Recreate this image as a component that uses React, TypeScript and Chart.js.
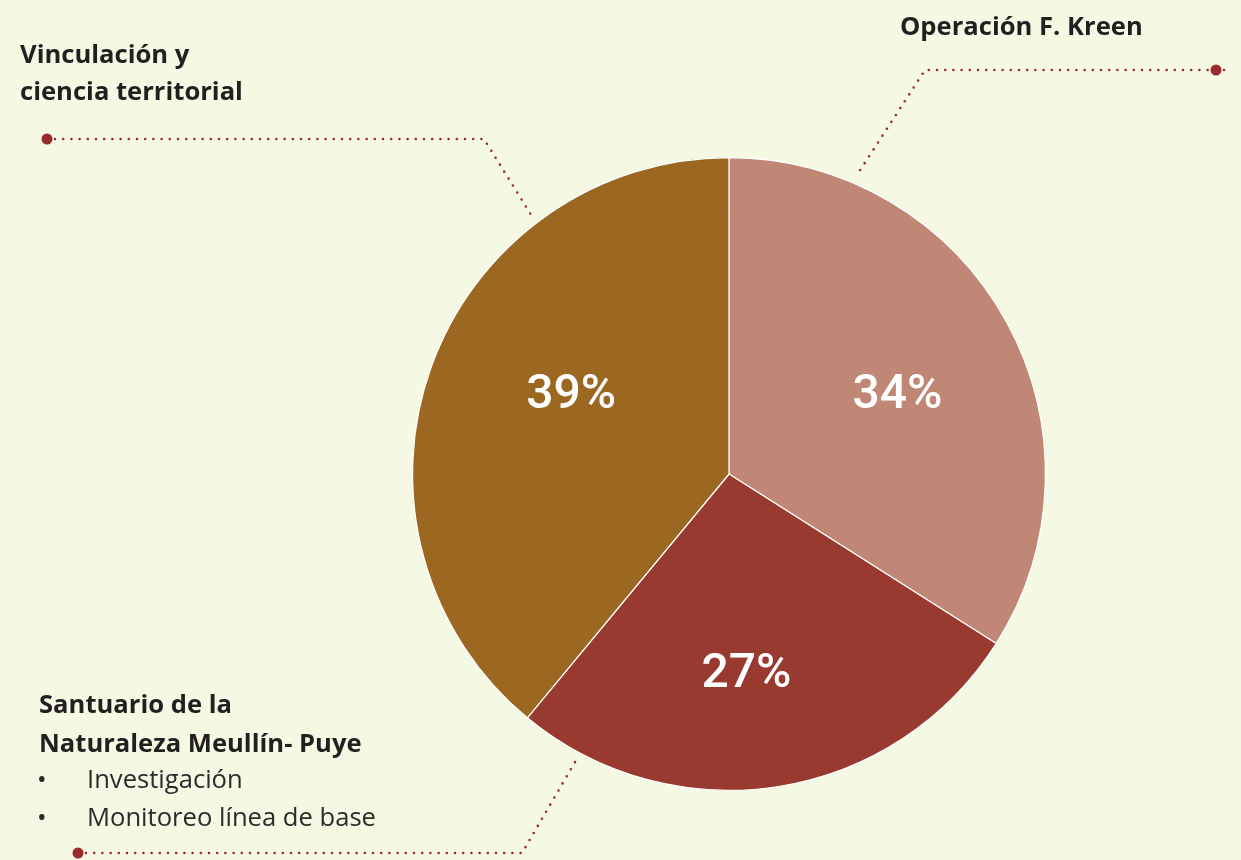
import React, { useEffect, useRef } from "react";
import { Chart, registerables } from "chart.js";

Chart.register(...registerables);

const categories = ["Operación F. Kreen", "Santuario de la Naturaleza Meullín- Puye", "Vinculación y ciencia territorial"];
const shares = [34, 27, 39];
const sliceColors = ["#C08777", "#983A30", "#9B6721"];
const percentLabels = ["34%", "27%", "39%"];

// label placement within slices: angle shift (deg) from mid-angle, radius fraction
const LABEL_ANGLE_SHIFT = [3.3, 4, 7.2];
const LABEL_RADIUS_FRAC = [0.59, 0.63, 0.56];

const BG = "#F5F8E3";
const LEADER_COLOR = "#9B2B2B";

type Pt = [number, number];
const LEADERS: Pt[][] = [
  [[1216, 70], [925, 70], [857, 175]],
  [[78, 853], [522, 853], [578, 757]],
  [[47, 139], [484, 139], [533, 218]],
];

type TextLine = { text: string; x: number; y: number; bold: boolean };
const TEXTS: TextLine[] = [
  { text: "Vinculación y", x: 20, y: 63, bold: true },
  { text: "ciencia territorial", x: 20, y: 100, bold: true },
  { text: "Operación F. Kreen", x: 900, y: 35, bold: true },
  { text: "Santuario de la", x: 39, y: 713, bold: true },
  { text: "Naturaleza Meullín- Puye", x: 39, y: 752, bold: true },
  { text: "•", x: 37, y: 788, bold: false },
  { text: "Investigación", x: 87, y: 788, bold: false },
  { text: "•", x: 37, y: 826, bold: false },
  { text: "Monitoreo línea de base", x: 87, y: 826, bold: false },
];

const overlayPlugin = {
  id: "overlay",
  afterDatasetsDraw(chart: any) {
    const ctx = chart.ctx as CanvasRenderingContext2D;
    const meta = chart.getDatasetMeta(0);
    ctx.save();
    // percent labels
    ctx.fillStyle = "#FFFFFF";
    ctx.font = '500 48px Roboto';
    ctx.textAlign = "center";
    ctx.textBaseline = "middle";
    meta.data.forEach((arc: any, i: number) => {
      const p = arc.getProps(["x", "y", "startAngle", "endAngle", "outerRadius"], true);
      const mid = (p.startAngle + p.endAngle) / 2 + (LABEL_ANGLE_SHIFT[i] * Math.PI) / 180;
      const r = p.outerRadius * LABEL_RADIUS_FRAC[i];
      ctx.fillText(percentLabels[i], p.x + Math.cos(mid) * r, p.y + Math.sin(mid) * r + 2);
    });
    // leader lines
    ctx.strokeStyle = LEADER_COLOR;
    ctx.fillStyle = LEADER_COLOR;
    ctx.lineWidth = 2.6;
    ctx.lineCap = "round";
    ctx.setLineDash([0, 8.2]);
    LEADERS.forEach((pts) => {
      ctx.beginPath();
      ctx.moveTo(pts[0][0] + 8, pts[0][1]);
      for (let k = 1; k < pts.length; k++) ctx.lineTo(pts[k][0], pts[k][1]);
      ctx.stroke();
    });
    ctx.setLineDash([]);
    LEADERS.forEach((pts) => {
      ctx.beginPath();
      ctx.arc(pts[0][0], pts[0][1], 5.5, 0, Math.PI * 2);
      ctx.fill();
    });
    // texts
    ctx.textAlign = "left";
    ctx.textBaseline = "alphabetic";
    TEXTS.forEach((t) => {
      ctx.font = t.bold ? '700 25.6px "Open Sans"' : '400 25.6px "Open Sans"';
      ctx.fillStyle = t.bold ? "#231F20" : "#2B2B2B";
      ctx.fillText(t.text, t.x, t.y);
    });
    ctx.restore();
  },
};

export default function App() {
  const ref = useRef<HTMLCanvasElement | null>(null);
  useEffect(() => {
    document.body.style.margin = "0";
    document.body.style.background = BG;
    if (!ref.current) return;
    const chart = new Chart(ref.current, {
      type: "pie",
      data: {
        labels: categories,
        datasets: [
          {
            data: shares,
            backgroundColor: sliceColors,
            borderColor: "#FFFFFF",
            borderWidth: 1.2,
          },
        ],
      },
      options: {
        responsive: false,
        animation: false,
        layout: { padding: { left: 412, top: 157, right: 195, bottom: 69 } },
        plugins: { legend: { display: false }, tooltip: { enabled: false } },
      },
      plugins: [overlayPlugin],
    });
    return () => chart.destroy();
  }, []);
  return (
    <div style={{ width: 1241, height: 860, background: BG }}>
      <canvas ref={ref} width={1241} height={860} style={{ display: "block" }} />
    </div>
  );
}
